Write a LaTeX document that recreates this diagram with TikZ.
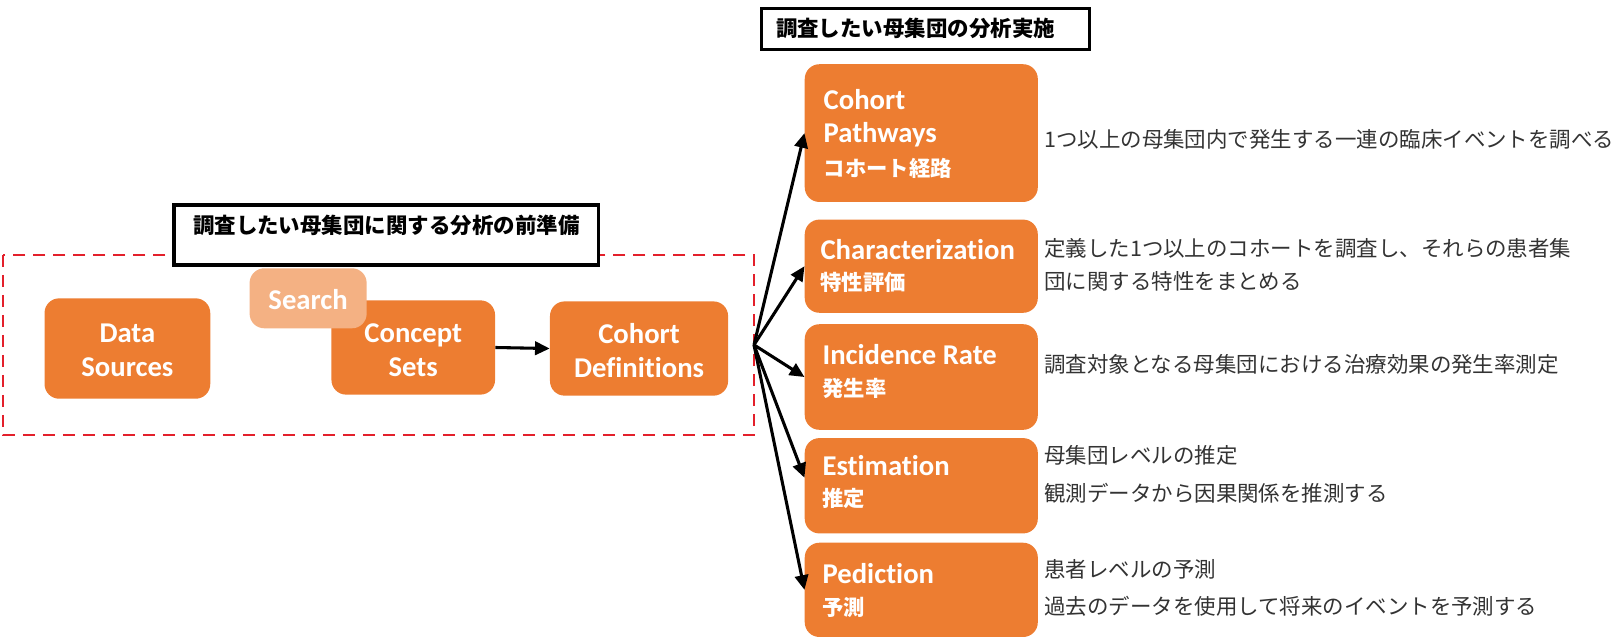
\documentclass[tikz,border=0pt]{standalone}
\usepackage{fontspec}
\setmainfont{Carlito}[Ligatures=NoCommon]
\newfontfamily\jp{Noto Sans CJK JP}
\usetikzlibrary{arrows.meta}
\definecolor{org}{HTML}{ED7D31}
\definecolor{lorg}{HTML}{F4B183}
\definecolor{dred}{HTML}{E3202B}
\definecolor{desc}{HTML}{333333}
\begin{document}
\begin{tikzpicture}[x=0.7768pt,y=-0.7768pt,
  box/.style={fill=org, rounded corners=11pt, inner sep=0pt},
  lbl/.style={text=white, font=\fontsize{21.5}{25.5}\selectfont\bfseries, align=center, inner sep=0pt},
  rlbl/.style={text=white, font=\fontsize{21.5}{25.5}\selectfont\bfseries, anchor=west, inner sep=0pt},
  jlbl/.style={text=white, font=\jp\fontsize{16}{19}\selectfont\bfseries, anchor=west, inner sep=0pt},
  dtxt/.style={text=desc, font=\jp\fontsize{16.1}{19}\selectfont, anchor=west, inner sep=0pt},
  ttl/.style={draw=black, line width=2.5pt, fill=white, inner sep=0pt},
  ttxt/.style={font=\jp\fontsize{16.1}{19}\selectfont\bfseries, inner sep=0pt},
  arr/.style={line width=2.3pt, -{Triangle[length=11pt,width=10pt]}}
]
\useasboundingbox (0,0) rectangle (1568,618);

% dashed frame
\draw[dred, line width=1.7pt, dash pattern=on 9pt off 6pt] (3,246) rectangle (728,420);

% left boxes
\node[box, minimum width=124.3pt, minimum height=75.3pt] (ds) at (123,336.5) {};
\node[lbl] (dst) at (123,338) {Data\\Sources};
\node[box, minimum width=122.7pt, minimum height=70.7pt] (cs) at (399,335.5) {};
\node[box, fill=lorg, minimum width=87.8pt, minimum height=45pt] (se) at (297.5,288) {};
\node[lbl] (set) at (297.5,289) {Search};
\node[lbl] (cst) at (399,338) {Concept\\Sets};
\node[box, minimum width=133.6pt, minimum height=70.7pt] (cd) at (617,336.5) {};
\node[lbl] (cdt) at (617,338) {Cohort\\Definitions};

\draw[arr] (cs.east) -- (cd.west);

% title 1
\node[ttl, minimum width=318.5pt, minimum height=45pt] (t1) at (373,227) {};
\node[ttxt] (t1t) at (373,218) {調査したい母集団に関する分析の前準備};
% title 2
\node[ttl, minimum width=246.2pt, minimum height=31pt] (t2) at (893.5,28) {};
\node[ttxt] (t2t) at (884,27) {調査したい母集団の分析実施};

% right boxes
\node[box, minimum width=174.8pt, minimum height=103.3pt] (cp) at (889.5,128.5) {};
\node[rlbl] (cp1) at (795,96) {Cohort};
\node[rlbl] (cp2) at (795,130) {Pathways};
\node[jlbl] (cp3) at (795,163) {コホート経路};

\node[box, minimum width=174.8pt, minimum height=69.9pt] (ch) at (889.5,257) {};
\node[rlbl] (ch1) at (792,241) {Characterization};
\node[jlbl] (ch2) at (792,273) {特性評価};

\node[box, minimum width=174.8pt, minimum height=79.2pt] (ir) at (889.5,364) {};
\node[rlbl] (ir1) at (794,342) {Incidence Rate};
\node[jlbl] (ir2) at (794,375) {発生率};

\node[box, minimum width=174.8pt, minimum height=71.5pt] (es) at (889.5,469) {};
\node[rlbl] (es1) at (794,449) {Estimation};
\node[jlbl] (es2) at (794,481) {推定};

\node[box, minimum width=174.8pt, minimum height=70.7pt] (pd) at (889.5,569.5) {};
\node[rlbl] (pd1) at (794,554) {Pediction};
\node[jlbl] (pd2) at (794,586) {予測};

% hub arrows
\coordinate (hub) at (728,333);
\draw[arr] (hub) -- (cp.west);
\draw[arr] (hub) -- (ch.west);
\draw[arr] (hub) -- (ir.west);
\draw[arr] (hub) -- ([yshift=6pt]es.west);
\draw[arr] (hub) -- (pd.west);

% descriptions
\node[dtxt] (d1) at (1008,135) {1つ以上の母集団内で発生する一連の臨床イベントを調べる};
\node[dtxt] (d2) at (1008,240) {定義した1つ以上のコホートを調査し、それらの患者集};
\node[dtxt] (d3) at (1008,272) {団に関する特性をまとめる};
\node[dtxt] (d4) at (1008,352) {調査対象となる母集団における治療効果の発生率測定};
\node[dtxt] (d5) at (1008,440) {母集団レベルの推定};
\node[dtxt] (d6) at (1008,476) {観測データから因果関係を推測する};
\node[dtxt] (d7) at (1008,550) {患者レベルの予測};
\node[dtxt] (d8) at (1008,585) {過去のデータを使用して将来のイベントを予測する};
\end{tikzpicture}
\end{document}
